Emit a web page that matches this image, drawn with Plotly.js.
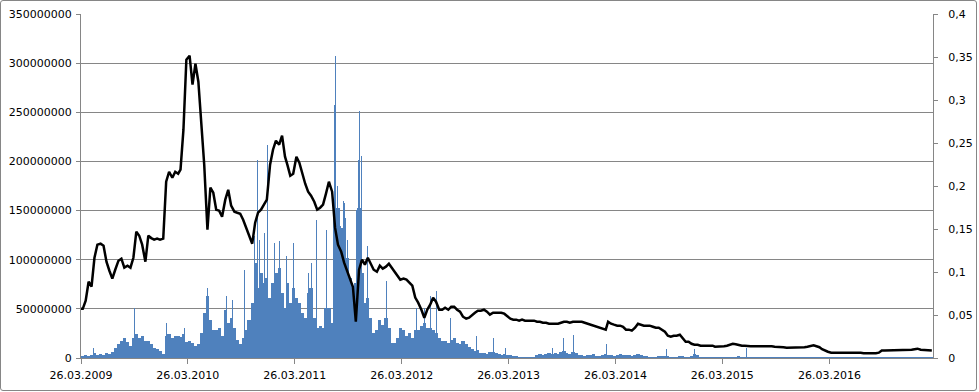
<!DOCTYPE html>
<html>
<head>
<meta charset="utf-8">
<script src="https://cdn.plot.ly/plotly-3.0.1.min.js"></script>
<style>
  html, body { margin:0; padding:0; background:#fff; }
  #chart { position:absolute; left:0; top:0; width:979px; height:392px; }
  #frame { position:absolute; left:0; top:0; width:975px; height:389px; border:1px solid #868686; border-radius:3px; pointer-events:none; }
</style>
</head>
<body>
<div id="chart"></div>
<div id="frame"></div>
<script>
// ---- data ----
const dates = [
'2009-03-26',
'2009-04-01','2009-04-11','2009-04-21','2009-05-01','2009-05-11','2009-05-21','2009-06-01','2009-06-11','2009-06-21',
'2009-07-01','2009-07-11','2009-07-21','2009-08-01','2009-08-11','2009-08-21','2009-09-01','2009-09-11','2009-09-21',
'2009-10-01','2009-10-11','2009-10-21','2009-11-01','2009-11-11','2009-11-21','2009-12-01','2009-12-11','2009-12-21',
'2010-01-01','2010-01-11','2010-01-21','2010-02-01','2010-02-11','2010-02-21','2010-03-01','2010-03-11','2010-03-21',
'2010-04-01','2010-04-11','2010-04-21','2010-05-01','2010-05-11','2010-05-21','2010-06-01','2010-06-11','2010-06-21',
'2010-07-01','2010-07-11','2010-07-21','2010-08-01','2010-08-11','2010-08-21','2010-09-01','2010-09-11','2010-09-21',
'2010-10-01','2010-10-11','2010-10-21','2010-11-01','2010-11-11','2010-11-21','2010-12-01','2010-12-11','2010-12-21',
'2011-01-01','2011-01-11','2011-01-21','2011-02-01','2011-02-11','2011-02-21','2011-03-01','2011-03-11','2011-03-21',
'2011-04-01','2011-04-11','2011-04-21','2011-05-01','2011-05-11','2011-05-21','2011-06-01','2011-06-11','2011-06-21',
'2011-07-01','2011-07-11','2011-07-21','2011-08-01','2011-08-11','2011-08-21','2011-09-01','2011-09-11','2011-09-21',
'2011-10-01','2011-10-11','2011-10-21','2011-11-01','2011-11-11','2011-11-21','2011-12-01','2011-12-11','2011-12-21',
'2012-01-01','2012-01-11','2012-01-21','2012-02-01','2012-02-11','2012-02-21','2012-03-01','2012-03-11','2012-03-21',
'2012-04-01','2012-04-11','2012-04-21','2012-05-01','2012-05-11','2012-05-21','2012-06-01','2012-06-11','2012-06-21',
'2012-07-01','2012-07-11','2012-07-21','2012-08-01','2012-08-11','2012-08-21','2012-09-01','2012-09-11','2012-09-21',
'2012-10-01','2012-10-11','2012-10-21','2012-11-01','2012-11-11','2012-11-21','2012-12-01','2012-12-11','2012-12-21',
'2013-01-01','2013-01-11','2013-01-21','2013-02-01','2013-02-11','2013-02-21','2013-03-01','2013-03-11','2013-03-21',
'2013-04-01','2013-04-11','2013-04-21','2013-05-01','2013-05-11','2013-05-21','2013-06-01','2013-06-11','2013-06-21',
'2013-07-01','2013-07-11','2013-07-21','2013-08-01','2013-08-11','2013-08-21','2013-09-01','2013-09-11','2013-09-21',
'2013-10-01','2013-10-11','2013-10-21','2013-11-01','2013-11-11','2013-11-21','2013-12-01','2013-12-11','2013-12-21',
'2014-01-01','2014-01-11','2014-01-21','2014-02-01','2014-02-11','2014-02-21','2014-03-01','2014-03-11','2014-03-21',
'2014-04-01','2014-04-11','2014-04-21','2014-05-01','2014-05-11','2014-05-21','2014-06-01','2014-06-11','2014-06-21',
'2014-07-01','2014-07-11','2014-07-21','2014-08-01','2014-08-11','2014-08-21','2014-09-01','2014-09-11','2014-09-21',
'2014-10-01','2014-10-11','2014-10-21','2014-11-01','2014-11-11','2014-11-21','2014-12-01','2014-12-11','2014-12-21',
'2015-01-01','2015-01-11','2015-01-21','2015-02-01','2015-02-11','2015-02-21','2015-03-01','2015-03-11','2015-03-21',
'2015-04-01','2015-04-11','2015-04-21','2015-05-01','2015-05-11','2015-05-21','2015-06-01','2015-06-11','2015-06-21',
'2015-07-01','2015-07-11','2015-07-21','2015-08-01','2015-08-11','2015-08-21','2015-09-01','2015-09-11','2015-09-21',
'2015-10-01','2015-10-11','2015-10-21','2015-11-01','2015-11-11','2015-11-21','2015-12-01','2015-12-11','2015-12-21',
'2016-01-01','2016-01-11','2016-01-21','2016-02-01','2016-02-11','2016-02-21','2016-03-01','2016-03-11','2016-03-21',
'2016-04-01','2016-04-11','2016-04-21','2016-05-01','2016-05-11','2016-05-21','2016-06-01','2016-06-11','2016-06-21',
'2016-07-01','2016-07-11','2016-07-21','2016-08-01','2016-08-11','2016-08-21','2016-09-01','2016-09-11','2016-09-21',
'2016-10-01','2016-10-11','2016-10-21','2016-11-01','2016-11-11','2016-11-21','2016-12-01','2016-12-11','2016-12-21',
'2017-01-01','2017-01-11','2017-01-21','2017-02-01','2017-02-11','2017-02-21','2017-03-01','2017-03-11'
];

// black line, left axis (in millions)
const lineMillions = [
50,
50,58.3,77.6,72.5,102,115.3,116.3,114.3,98,88.8,80.7,89.8,99,101,91.9,93.9,91.9,102,
128.5,124.4,115.3,98,124.4,122,120.4,121.4,120.4,121.4,179.4,189.5,183.4,189.5,187.5,191.6,232.3,303.5,
307.6,278.1,299.4,281.1,237.4,196.7,130.5,173.3,168.2,150.9,149.9,143.8,161.1,171.2,155,148.9,147.8,146.8,
140.7,132.6,126.5,116.3,137.7,147.8,150.9,156,161.1,196.7,211.9,221.1,217,226.2,204.8,196.7,185.5,187.5,
204.8,198.7,186.5,177.3,169.2,165.1,159,150.9,152.9,156,167.2,179.4,169.2,132.6,115.3,108.2,97,88.8,
81.7,72.5,36.9,89.8,100,94.9,102,95.9,89.8,87.8,93.9,90.9,92.9,95.9,91.9,87.8,84.8,79.7,
80.7,79.7,76.6,73.6,61.4,56.3,49.1,41,49.1,54.2,61.4,57.3,49.1,49.1,51.2,49.1,52.2,52.2,
49.1,47.1,42,40,41,44.1,46.1,48.1,48.1,49.1,47.1,44.1,46.1,46.1,46.1,46.1,45.1,43,
40,39,39,38,39,38,38,38,38,36.9,36.9,35.9,35.9,34.9,34.9,34.9,34.9,35.9,
36.9,36.9,35.9,36.9,36.9,36.9,36.9,35.9,34.9,33.9,32.9,31.8,30.8,29.8,28.8,36.9,34.9,33.9,
32.9,32.9,31.8,28.8,28.8,27.8,30.8,34.9,33.9,32.9,32.9,32.9,31.8,30.8,30.8,28.8,26.8,22.7,
21.7,22.7,22.7,23.7,19.6,16.6,16.6,14.5,13.5,13.5,12.5,12.5,12.5,12.5,12.5,11.5,11.5,11.5,
12,12.5,13.5,14.5,14,13,12.5,12.5,12,12,12,12,12,12,12,12.5,12,11.5,
11.5,11,11,10.5,10.5,10.5,10.5,10.5,11,11,11.5,12,13,12,11,9,7.4,6.4,
5.4,5.4,5.4,5.4,5.4,5.9,5.9,5.9,5.4,5.4,5.4,4.9,4.9,4.9,4.4,4.9,5.4,7.7,
7.7,7.7,7.7,7.9,7.9,7.9,7.9,8.1,8.1,8.4,9,9.5,8.4,8.1,7.9,7.7,7.7
];

// blue bars, right axis
const barValues = [
0.0012,
0.0023,0.0035,0.0023,0.0035,0.0058,0.0035,0.0047,0.0035,0.0058,0.0047,0.007,0.0116,0.0163,0.0198,0.0233,0.0186,0.014,0.0233,
0.0279,0.0233,0.0256,0.0198,0.0198,0.0163,0.0116,0.0105,0.0081,0.0047,0.0256,0.0279,0.0233,0.0256,0.0256,0.0244,0.0279,0.0186,
0.0198,0.0174,0.014,0.0163,0.0291,0.0523,0.0721,0.0442,0.0326,0.0326,0.0349,0.0256,0.0558,0.0407,0.0465,0.0349,0.0209,0.0163,
0.0233,0.0326,0.0442,0.064,0.1105,0.0814,0.0988,0.0872,0.093,0.0698,0.0872,0.0988,0.1047,0.0756,0.0581,0.0872,0.064,0.0814,
0.0698,0.064,0.0523,0.0465,0.0756,0.0814,0.0465,0.0349,0.0372,0.0349,0.0581,0.0581,0.0407,0.1628,0.1744,0.1512,0.1628,0.1163,
0.093,0.0814,0.0872,0.1744,0.0988,0.064,0.0698,0.0465,0.0291,0.0326,0.0442,0.0384,0.0465,0.0349,0.0174,0.0174,0.0233,0.0349,
0.0326,0.0256,0.0291,0.0233,0.0326,0.0326,0.0372,0.0407,0.0349,0.0349,0.0326,0.0291,0.0233,0.0198,0.0198,0.0174,0.0209,0.0233,
0.0174,0.0163,0.0198,0.0163,0.0128,0.0105,0.0081,0.0093,0.0058,0.0058,0.0047,0.007,0.007,0.0058,0.0047,0.0035,0.0047,0.0035,
0.0035,0.0023,0.0023,0.0017,0.0017,0.0012,0.0012,0.0012,0.0012,0.0035,0.0047,0.0035,0.0047,0.0058,0.0047,0.0058,0.0047,0.007,
0.0081,0.0058,0.0047,0.007,0.0058,0.0035,0.0035,0.0023,0.0035,0.0035,0.0047,0.0023,0.0023,0.0035,0.0047,0.0035,0.0035,0.0023,
0.0035,0.0047,0.0035,0.0035,0.0035,0.0023,0.0035,0.0047,0.0035,0.0023,0.0023,0.0017,0.0017,0.0017,0.0023,0.0023,0.0023,0.0023,
0.0017,0.0017,0.0017,0.0023,0.0023,0.0017,0.0017,0.0023,0.0047,0.0035,0.0012,0.0012,0.0012,0.0012,0.0012,0.0012,0.0012,0.0017,
0.0012,0.0012,0.0017,0.0012,0.0012,0.0023,0.0012,0.0009,0.0009,0.0012,0.0009,0.0009,0.0012,0.0009,0.0009,0.0012,0.0009,0.0009,
0.0009,0.0009,0.0012,0.0009,0.0009,0.0009,0.0009,0.0009,0.0009,0.0009,0.0009,0.0012,0.0009,0.0009,0.0009,0.0009,0.0009,0.0009,
0.0009,0.0009,0.0012,0.0009,0.0009,0.0009,0.0009,0.0012,0.0009,0.0009,0.0009,0.0009,0.0009,0.0012,0.0009,0.0009,0.0009,0.0009,
0.0009,0.0009,0.0012,0.0009,0.0009,0.0009,0.0009,0.0009,0.0009,0.0012,0.0009,0.0009,0.0009,0.0009,0.0009,0.0009,0.0009
];

// single-day spikes of the blue series
const spikeDates = [
'2009-05-07','2009-09-25','2010-01-12','2010-03-14','2010-06-02','2010-08-04','2010-08-27','2010-10-06',
'2010-11-08','2010-11-20','2010-11-26','2010-12-12','2010-12-24','2011-01-16','2011-02-02','2011-02-25',
'2011-03-23','2011-05-13','2011-05-21','2011-06-09','2011-07-13','2011-08-08','2011-08-12','2011-08-20',
'2011-08-31','2011-09-08','2011-09-11','2011-09-24','2011-10-24','2011-10-29','2011-11-04','2011-11-08',
'2011-11-30','2012-02-02','2012-05-16','2012-06-11','2012-07-01','2012-07-24','2012-09-10','2012-12-05',
'2013-02-02','2013-03-14','2013-08-23','2013-09-28','2013-11-04','2014-02-25','2014-09-16','2014-12-22',
'2015-06-16'
];
const spikeValues = [
0.0116,0.0581,0.0407,0.0349,0.0814,0.0721,0.0674,0.1023,
0.1419,0.2302,0.1372,0.1453,0.2477,0.1337,0.136,0.1186,
0.1337,0.0988,0.1105,0.1605,0.1488,0.2942,0.3512,0.2,
0.1535,0.1826,0.1802,0.1372,0.1721,0.2302,0.2872,0.2349,
0.1302,0.0895,0.0581,0.0581,0.0721,0.0779,0.0465,0.0256,
0.0233,0.0116,0.0116,0.0233,0.0267,0.0163,0.0105,0.0105,
0.0116
];

// ticks
const xTickVals = ['2009-03-26','2010-03-26','2011-03-26','2012-03-26','2013-03-26','2014-03-26','2015-03-26','2016-03-26'];
const xTickText = ['26.03.2009','26.03.2010','26.03.2011','26.03.2012','26.03.2013','26.03.2014','26.03.2015','26.03.2016'];
const leftTickVals = [0,50000000,100000000,150000000,200000000,250000000,300000000,350000000];
const leftTickText = ['0','50000000','100000000','150000000','200000000','250000000','300000000','350000000'];
const rightTickVals = [0,0.05,0.1,0.15,0.2,0.25,0.3,0.35,0.4];
const rightTickText = ['0','0,05','0,1','0,15','0,2','0,25','0,3','0,35','0,4'];

// ---- chart ----
const DAY = 86400000;
const BLUE = '#4F81BD';
const GRAY = '#868686';

const traces = [
  { type:'bar', x:dates, y:barValues, width:dates.map(()=>11*DAY),
    marker:{color:BLUE, line:{width:0}}, yaxis:'y', hoverinfo:'skip' },
  { type:'bar', x:spikeDates, y:spikeValues, width:spikeDates.map(()=>3.5*DAY),
    marker:{color:BLUE, line:{width:0}}, yaxis:'y', hoverinfo:'skip' },
  { type:'scatter', mode:'lines', x:dates, y:lineMillions.map(v=>v*1e6),
    line:{color:'#000000', width:2.5}, yaxis:'y2', hoverinfo:'skip' }
];

const tickFont = {family:'DejaVu Sans', size:11, color:'#000000'};

const layout = {
  width:979, height:392,
  margin:{l:81, r:46, t:14, b:34, pad:0},
  paper_bgcolor:'#ffffff', plot_bgcolor:'#ffffff',
  showlegend:false, barmode:'overlay', bargap:0,
  font:tickFont,
  xaxis:{type:'date', range:['2009-03-26','2017-03-15'], tickmode:'array',
    tickvals:xTickVals, ticktext:xTickText, ticks:'outside', ticklen:5, tickcolor:GRAY,
    showline:true, linecolor:GRAY, linewidth:1, showgrid:false, zeroline:false, tickangle:0,
    tickfont:tickFont, ticklabelstandoff:2},
  yaxis:{side:'right', range:[0,0.4], tickmode:'array', tickvals:rightTickVals, ticktext:rightTickText,
    ticks:'outside', ticklen:4, tickcolor:GRAY, showline:true, linecolor:GRAY, linewidth:1,
    showgrid:false, zeroline:false, tickfont:tickFont, ticklabelstandoff:8},
  yaxis2:{side:'left', overlaying:'y', range:[0,350000000], tickmode:'array', tickvals:leftTickVals, ticktext:leftTickText,
    ticks:'outside', ticklen:4, tickcolor:GRAY, showline:true, linecolor:GRAY, linewidth:1,
    showgrid:true, gridcolor:GRAY, gridwidth:1, zeroline:false, tickfont:tickFont, ticklabelstandoff:2}
};

Plotly.newPlot('chart', traces, layout, {displayModeBar:false, staticPlot:true});
</script>
</body>
</html>
